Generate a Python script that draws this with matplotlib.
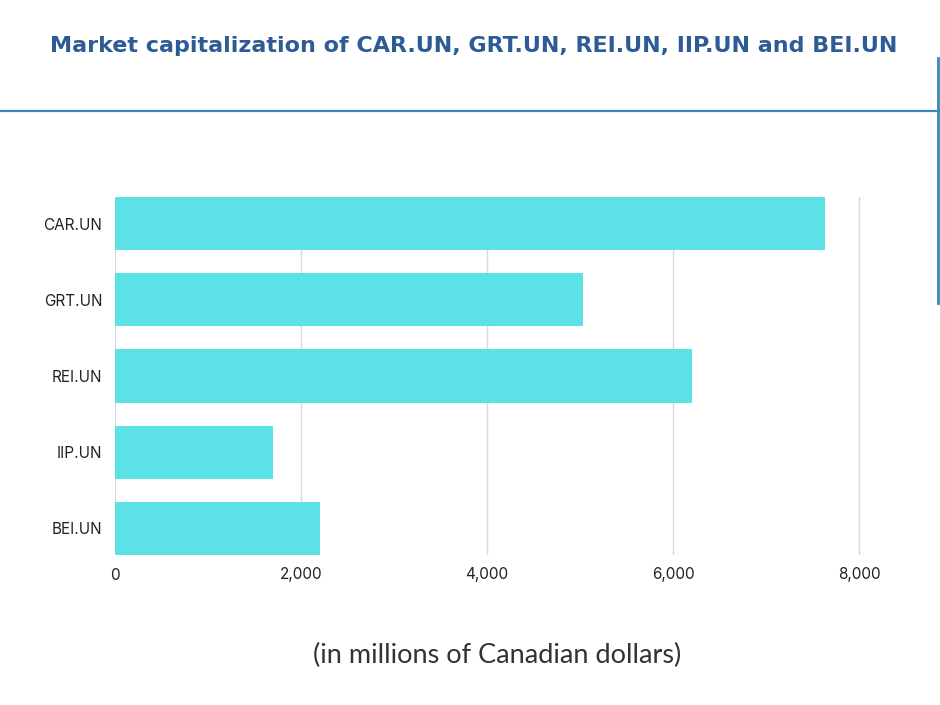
import matplotlib
matplotlib.use("Agg")
import matplotlib.pyplot as plt
from matplotlib.lines import Line2D

categories = ["CAR.UN", "GRT.UN", "REI.UN", "IIP.UN", "BEI.UN"]
values = [7630, 5030, 6200, 1700, 2200]
xticks = [0, 2000, 4000, 6000, 8000]
xtick_labels = ["0", "2,000", "4,000", "6,000", "8,000"]
title = "Market capitalization of CAR.UN, GRT.UN, REI.UN, IIP.UN and BEI.UN"
xlabel = "(in millions of Canadian dollars)"

xmax = 8050
px_per_unit = (859 - 115) / 8000
fig = plt.figure(figsize=(9.4, 7.05), dpi=100)
ax = fig.add_axes([115/940, 1-555/705, xmax*px_per_unit/940, (555-197)/705])

ypos = list(range(len(categories)))
ax.barh(ypos, values, height=0.70, color="#5ce1e6", zorder=2)
ax.set_ylim(len(categories) - 0.5 - 0.15, -0.35)
ax.set_xlim(0, xmax)
ax.set_yticks(ypos)
ax.set_yticklabels(categories, fontsize=11, family="Inter", color="#222222")
ax.set_xticks(xticks)
ax.set_xticklabels(xtick_labels, fontsize=11, family="Inter", color="#222222")
ax.tick_params(length=0)
ax.tick_params(axis="y", pad=9)
ax.tick_params(axis="x", pad=9)
ax.grid(axis="x", color="#d9d9d9", linewidth=1, zorder=0)
for s in ax.spines.values():
    s.set_visible(False)

fig.text(474/940, 1-46/705, title, ha="center", va="center", fontsize=16,
         fontweight="bold", family="DejaVu Sans", color="#2d5b96")
fig.text(497/940, 1-655/705, xlabel, ha="center", va="center", fontsize=19.5,
         family="Lato", color="#333333")

fig.add_artist(Line2D([0, 1], [1-111/705, 1-111/705], transform=fig.transFigure,
                      color="#3a87b8", linewidth=1.6))
fig.add_artist(Line2D([938/940, 938/940], [1-58/705, 1-303/705], transform=fig.transFigure,
                      color="#3a87b8", linewidth=2))

fig.savefig("out.png", dpi=100)
